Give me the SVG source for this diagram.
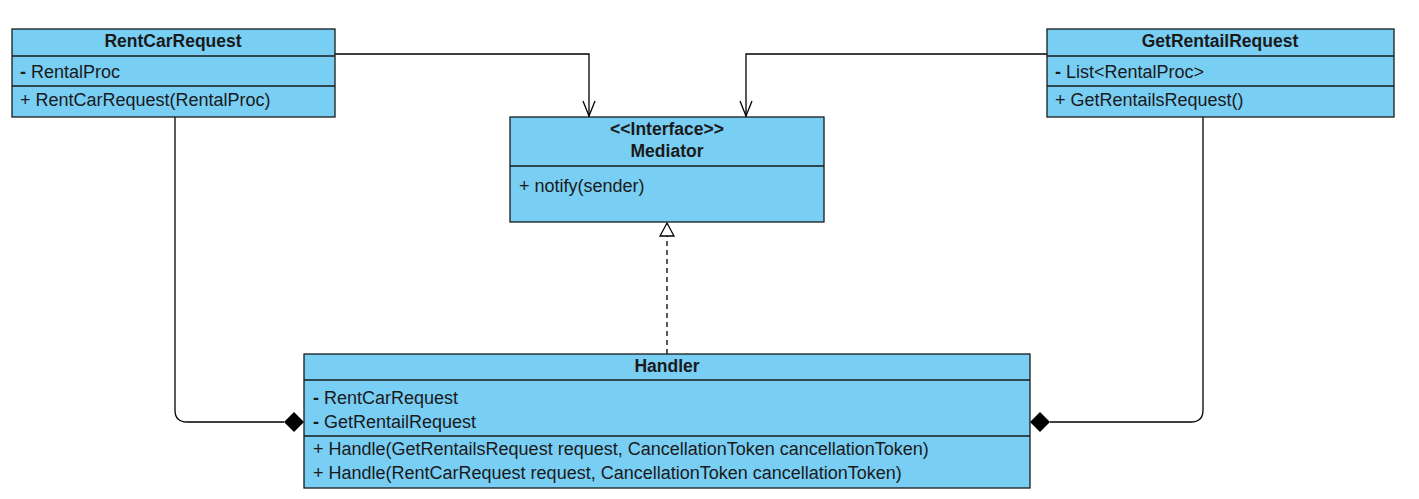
<svg xmlns="http://www.w3.org/2000/svg" width="1419" height="499" viewBox="0 0 1419 499">
<style>
.box{fill:#79cef4;stroke:#1a1a1a;stroke-width:1.3}
.sep{stroke:#1a1a1a;stroke-width:1.3}
.t{font-family:"Liberation Sans",Arial,sans-serif;font-size:18px;fill:#1a1a1a}
.b{font-weight:bold;text-anchor:middle;font-size:17.5px}
.line{fill:none;stroke:#000;stroke-width:1.3}
</style>
<rect width="1419" height="499" fill="#fff"/>
<g id="connectors">
<path class="line" d="M335 54 H589 V117"/>
<path d="M583 101 L589 116 L595 101" fill="none" stroke="#000" stroke-width="1.3"/>
<path class="line" d="M1047 54 H746 V117"/>
<path d="M740 101 L746 116 L752 101" fill="none" stroke="#000" stroke-width="1.3"/>
<path class="line" d="M175 117 V410 Q175 422 187 422 H284"/>
<path d="M304 422 L294 412 L284 422 L294 432 Z" fill="#000"/>
<path class="line" d="M1050 422 H1191 Q1203 422 1203 410 V117"/>
<path d="M1030 422 L1040 412 L1050 422 L1040 432 Z" fill="#000"/>
<path class="line" d="M667 354 V236" stroke-dasharray="5,4"/>
<path d="M667 223 L674 236 L660 236 Z" fill="#fff" stroke="#000" stroke-width="1.3"/>
</g>
<g id="RentCarRequest">
<rect class="box" x="12" y="29" width="323" height="88"/>
<line class="sep" x1="12" y1="56" x2="335" y2="56"/>
<line class="sep" x1="12" y1="86" x2="335" y2="86"/>
<text class="t b" x="173" y="47">RentCarRequest</text>
<text class="t" x="20" y="78"><tspan font-weight="bold">-</tspan> RentalProc</text>
<text class="t" x="20" y="106">+ RentCarRequest(RentalProc)</text>
</g>
<g id="GetRentailRequest">
<rect class="box" x="1047" y="29" width="347" height="88"/>
<line class="sep" x1="1047" y1="56" x2="1394" y2="56"/>
<line class="sep" x1="1047" y1="86" x2="1394" y2="86"/>
<text class="t b" x="1220" y="47">GetRentailRequest</text>
<text class="t" x="1055" y="78"><tspan font-weight="bold">-</tspan> List&lt;RentalProc&gt;</text>
<text class="t" x="1055" y="106">+ GetRentailsRequest()</text>
</g>
<g id="Mediator">
<rect class="box" x="510" y="117" width="314" height="105"/>
<line class="sep" x1="510" y1="166" x2="824" y2="166"/>
<text class="t b" x="667" y="135">&lt;&lt;Interface&gt;&gt;</text>
<text class="t b" x="667" y="157">Mediator</text>
<text class="t" x="519" y="192">+ notify(sender)</text>
</g>
<g id="Handler">
<rect class="box" x="304" y="354" width="726" height="134"/>
<line class="sep" x1="304" y1="380" x2="1030" y2="380"/>
<line class="sep" x1="304" y1="436" x2="1030" y2="436"/>
<text class="t b" x="667" y="372">Handler</text>
<text class="t" x="313" y="404"><tspan font-weight="bold">-</tspan> RentCarRequest</text>
<text class="t" x="313" y="428"><tspan font-weight="bold">-</tspan> GetRentailRequest</text>
<text class="t" x="313" y="455">+ Handle(GetRentailsRequest request, CancellationToken cancellationToken)</text>
<text class="t" x="313" y="479">+ Handle(RentCarRequest request, CancellationToken cancellationToken)</text>
</g>
</svg>
